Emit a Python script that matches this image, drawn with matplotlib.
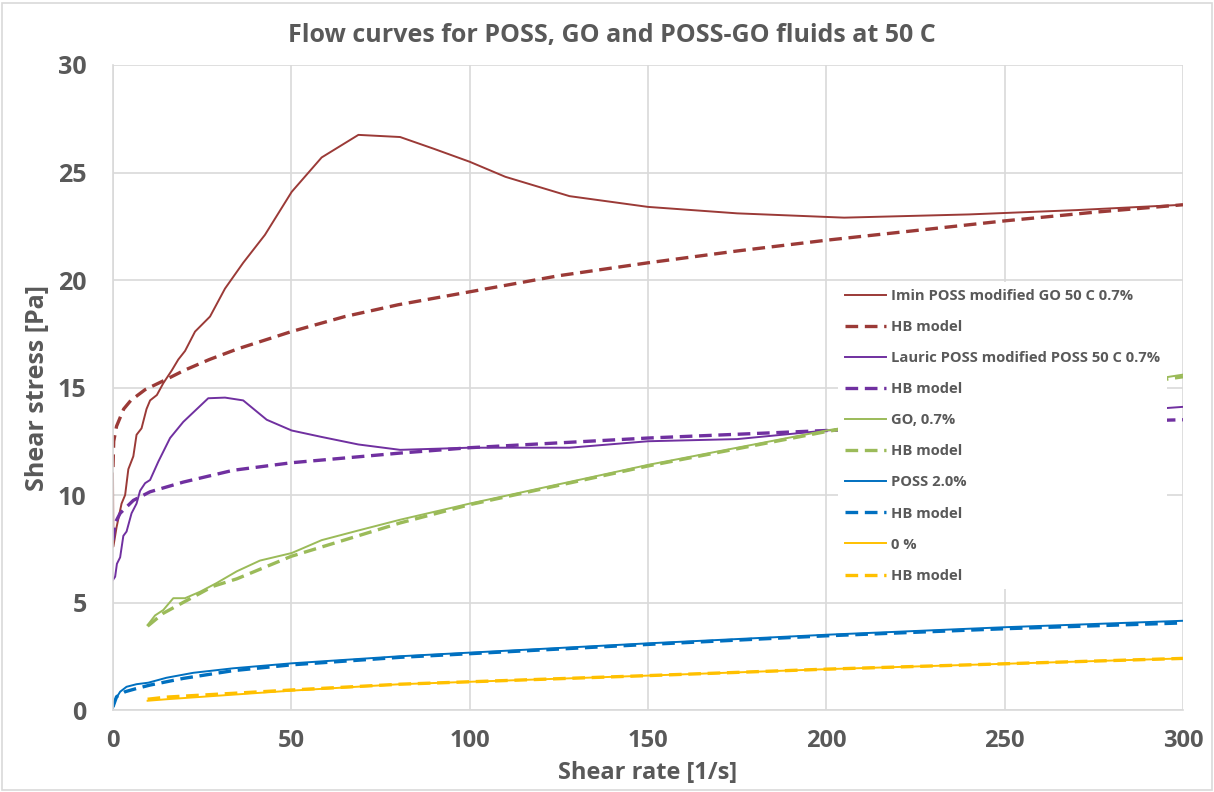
import matplotlib
matplotlib.use("Agg")
import matplotlib.pyplot as plt
from matplotlib.patches import Rectangle

##### Data #####
imin_x = [0, 0.1, 1.0, 2.4, 3.4, 4.3, 5.7, 6.6, 8.0, 9.4, 10.4, 12.3, 14.1, 16.5, 18.3, 20.2,
          23, 27.2, 31.4, 36.5, 42.6, 50.1, 58.5, 68.8, 80.5, 90, 100, 110, 128, 150, 175, 205, 240, 270, 300]
imin_y = [11.0, 7.6, 8.5, 9.6, 10.0, 11.2, 11.8, 12.8, 13.1, 14.0, 14.4, 14.65, 15.2, 15.8, 16.3, 16.7,
          17.6, 18.3, 19.6, 20.8, 22.1, 24.1, 25.7, 26.75, 26.65, 26.1, 25.5, 24.8, 23.9, 23.4, 23.1, 22.9, 23.05, 23.25, 23.5]
imin_hb_x = [0, 0.2, 1, 3, 5, 9, 14, 20, 27, 35, 50, 65, 80, 100, 125, 150, 175, 200, 225, 250, 275, 300]
imin_hb_y = [11.3, 12.5, 13.2, 14.0, 14.4, 14.9, 15.3, 15.8, 16.3, 16.8, 17.6, 18.3, 18.85, 19.45, 20.2, 20.8,
             21.35, 21.85, 22.3, 22.75, 23.15, 23.5]

lauric_x = [0, 0.6, 1.1, 2.0, 2.9, 3.8, 5.2, 6.6, 7.6, 9.0, 10.4, 12.7, 16.0, 19.7, 26.7, 31.4, 36.5,
            43.1, 50.1, 58.5, 68.8, 80.5, 100, 128, 150, 175, 200, 250, 300]
lauric_y = [6.05, 6.2, 6.8, 7.1, 8.1, 8.3, 9.15, 9.6, 10.2, 10.55, 10.7, 11.55, 12.65, 13.4, 14.5, 14.53, 14.4,
            13.5, 13.0, 12.7, 12.35, 12.1, 12.2, 12.2, 12.5, 12.6, 13.0, 13.5, 14.1]
lauric_hb_x = [0, 0.6, 2, 5.7, 10.4, 19.7, 33.7, 50, 80.5, 100, 150, 200, 250, 300]
lauric_hb_y = [7.9, 8.7, 9.15, 9.75, 10.15, 10.6, 11.15, 11.5, 11.95, 12.2, 12.65, 13.0, 13.3, 13.5]

go_x = [9.7, 11.8, 14.1, 16.9, 20.2, 24.4, 29, 34.7, 41.2, 50.1, 58.5, 68.8, 80.5, 100, 150, 200, 250, 300]
go_y = [3.95, 4.4, 4.65, 5.2, 5.2, 5.5, 5.9, 6.45, 6.95, 7.3, 7.9, 8.35, 8.85, 9.6, 11.4, 13.0, 14.3, 15.6]
go_hb_x = [9.7, 14.1, 20.2, 28, 34.7, 50, 80.5, 100, 150, 200, 250, 300]
go_hb_y = [3.9, 4.5, 5.05, 5.75, 6.1, 7.15, 8.7, 9.55, 11.35, 12.95, 14.3, 15.5]

poss_x = [0, 0.6, 2.0, 3.8, 6.6, 9.9, 15, 22.5, 33.7, 50, 80.5, 150, 200, 250, 300]
poss_y = [0.08, 0.47, 0.85, 1.08, 1.2, 1.27, 1.5, 1.73, 1.94, 2.17, 2.5, 3.1, 3.5, 3.85, 4.15]
poss_hb_x = [0, 1, 3.4, 6.6, 10.4, 19.7, 33.7, 50, 80.5, 150, 200, 250, 300]
poss_hb_y = [0.15, 0.62, 0.85, 1.0, 1.16, 1.47, 1.83, 2.1, 2.45, 3.05, 3.45, 3.78, 4.05]

zero_x = [9.7, 15, 50, 80.5, 150, 200, 250, 300]
zero_y = [0.43, 0.5, 0.9, 1.2, 1.6, 1.9, 2.15, 2.4]
zero_hb_x = [9.7, 15, 50, 80.5, 150, 200, 250, 300]
zero_hb_y = [0.5, 0.6, 0.93, 1.2, 1.6, 1.9, 2.15, 2.4]

series = [
    ("Imin POSS modified GO 50 C 0.7%", imin_x, imin_y, imin_hb_x, imin_hb_y, "#9B3A37"),
    ("Lauric POSS modified POSS 50 C 0.7%", lauric_x, lauric_y, lauric_hb_x, lauric_hb_y, "#7030A0"),
    ("GO, 0.7%", go_x, go_y, go_hb_x, go_hb_y, "#9BBB59"),
    ("POSS 2.0%", poss_x, poss_y, poss_hb_x, poss_hb_y, "#0070C0"),
    ("0 %", zero_x, zero_y, zero_hb_x, zero_hb_y, "#FFC000"),
]

##### Plot #####
plt.rcParams["font.family"] = ["Open Sans", "DejaVu Sans"]
text_col = "#595959"

fig = plt.figure(figsize=(12.14, 7.92), dpi=100)
ax = fig.add_axes([113 / 1214, 1 - 710 / 792, (1183 - 113) / 1214, (710 - 65) / 792])

for label, x, y, hx, hy, col in series:
    ax.plot(x, y, color=col, lw=1.4, label=label)
    ax.plot(hx, hy, color=col, lw=2.4, ls=(0, (3.8, 2.0)), label="HB model")

ax.set_xlim(0, 300)
ax.set_ylim(0, 30)
ax.set_xticks(range(0, 301, 50))
ax.set_yticks(range(0, 31, 5))
ax.grid(True, color="#D9D9D9", lw=1.2)
ax.set_axisbelow(True)
for s in ["top", "right"]:
    ax.spines[s].set_visible(False)
for s in ["left", "bottom"]:
    ax.spines[s].set_color("#D9D9D9")
    ax.spines[s].set_linewidth(1.2)
ax.tick_params(axis="y", length=0, pad=19, labelsize=18, labelcolor=text_col)
ax.tick_params(axis="x", length=0, pad=14, labelsize=17, labelcolor=text_col)
for t in ax.get_xticklabels() + ax.get_yticklabels():
    t.set_fontweight("bold")

ax.set_xlabel("Shear rate [1/s]", fontsize=17, fontweight="bold", color=text_col)
ax.xaxis.set_label_coords(0.5, -(761 - 710) / 645)
ax.set_ylabel("Shear stress [Pa]", fontsize=18, fontweight="bold", color=text_col, labelpad=6)
fig.text(0.504, 0.955, "Flow curves for POSS, GO and POSS-GO fluids at 50 C",
         ha="center", va="center", fontsize=18, fontweight="bold", color=text_col)

leg = ax.legend(loc="upper left", bbox_to_anchor=(718 / 1070, (710 - 275) / 645),
                frameon=True, facecolor="white", edgecolor="none", framealpha=1,
                fancybox=False, handlelength=2.8, handletextpad=0.35,
                labelspacing=1.16, borderpad=0.45, prop={"size": 10.6, "weight": "bold"})
for t in leg.get_texts():
    t.set_color(text_col)

# chart border like the spreadsheet frame
fig.patches.append(Rectangle((0.002, 0.002), 0.996, 0.994, transform=fig.transFigure,
                             fill=False, edgecolor="#D9D9D9", lw=1.2))

fig.savefig("out.png", dpi=100)
